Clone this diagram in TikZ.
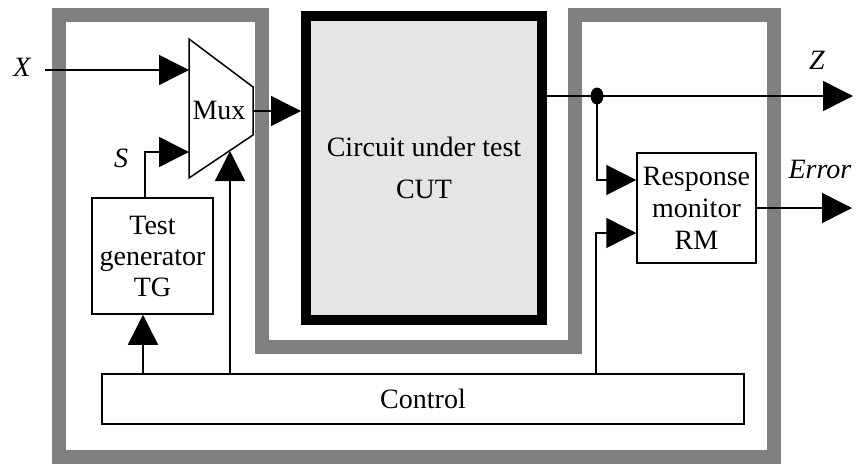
\documentclass[tikz,border=0pt]{standalone}
\usepackage{fontspec}
\setmainfont{Liberation Serif}
\usetikzlibrary{arrows.meta, positioning, shapes.geometric}

\begin{document}
\begin{tikzpicture}[x=1pt, y=-1pt,
        font=\fontsize{28}{31}\selectfont,
        box/.style={draw, line width=1.5pt, align=center, inner sep=0pt},
        lbl/.style={font=\fontsize{28}{31}\selectfont\itshape, inner sep=0pt},
        wire/.style={line width=1.5pt},
        arr/.style={-{Triangle[length=30pt, width=30pt]}, line width=1.5pt},
        dot/.style={ellipse, fill, inner sep=0pt, minimum width=13pt, minimum height=17pt}]
        \useasboundingbox (0,0) rectangle (856,466);
        % self-test frame
        \draw[line width=14pt, gray] (59,15) -- (262,15) -- (262,347) -- (575,347) -- (575,15)
            -- (774,15) -- (774,457) -- (59,457) -- cycle;
        \node[box, line width=10pt, fill=black!10, minimum width=236pt, minimum height=304pt,
            font=\fontsize{28}{42}\selectfont] (cut) at (424,168) {Circuit under test\\CUT};
        \node[box, minimum width=121pt, minimum height=116pt,
            font=\fontsize{28}{31}\selectfont] (tg) at (152.5,256) {Test\\generator\\TG};
        \node[box, minimum width=119pt, minimum height=110pt,
            font=\fontsize{28}{32}\selectfont] (rm) at (696.5,208) {Response\\monitor\\RM};
        \node[box, minimum width=642pt, minimum height=50pt] (ctl) at (423,399) {Control};
        % multiplexer
        \draw[wire] (189,39) -- (253,87) -- (253,135) -- (189,178) -- cycle;
        \node (mux) at (219,110) {Mux};
        \coordinate (mux-x) at (189,70);
        \coordinate (mux-s) at (189,152);
        \coordinate (mux-out) at (253,111);
        \coordinate (mux-ctl) at (230,151);
        \node[lbl] (x) at (22,67) {X};
        \node[lbl] (s) at (121,158) {S};
        \node[lbl] (z) at (817,60) {Z};
        \node[lbl] (err) at (820,169) {Error};
        \node[dot] (jn) at (597,96) {};
        \coordinate (xin) at (45,70);
        \coordinate (zout) at (853,96);
        \coordinate (errout) at (852,208);
        \coordinate (tg-s) at ([xshift=-7.5pt]tg.north);
        \coordinate (tg-in) at ([xshift=-9.5pt]tg.south);
        \coordinate (rm-a) at (rm.west |- 0,180);
        \coordinate (rm-b) at (rm.west |- 0,233);
        \coordinate (tap) at (596,0);
        \draw[arr] (xin) -- (mux-x);
        \draw[arr] (tg-s) |- (mux-s);
        \draw[arr] (mux-out) -- (cut.west |- mux-out);
        \draw[arr] (tg-in |- ctl.north) -- (tg-in);
        \draw[arr] (mux-ctl |- ctl.north) -- (mux-ctl);
        \draw[arr] (cut.east |- zout) -- (zout);
        \draw[arr] (jn.center) |- (rm-a);
        \draw[arr] (tap |- ctl.north) |- (rm-b);
        \draw[arr] (rm.east) -- (errout);
    \end{tikzpicture}
\end{document}
